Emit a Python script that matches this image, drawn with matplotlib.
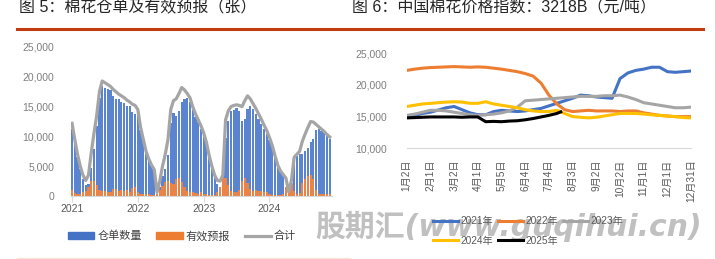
import numpy as np
import matplotlib
matplotlib.use('Agg')
import matplotlib.pyplot as plt
from matplotlib.lines import Line2D
from matplotlib.patches import Patch
from matplotlib.ticker import FuncFormatter

plt.rcParams['font.family'] = ['Liberation Sans', 'Noto Sans CJK SC']

# ---- 图5: 棉花仓单及有效预报, half-monthly readings 2021-2024 ----
total = [12200, 9500, 7000, 5000, 3500, 2600, 3500, 7200, 10500, 13500, 17500, 19300,
         19000, 18700, 18400, 17900, 17500, 17100, 16800, 16500, 16100, 15800, 15400, 15200,
         14500, 11500, 9500, 7500, 6200, 5200, 4400, 600, 2500, 5000, 7000, 9500,
         14500, 16000, 16300, 17200, 18200, 17800, 17200, 16500, 15000, 13800, 12800, 11800,
         10600, 9000, 6800, 5000, 3500, 2600, 2500, 3500, 12800, 14300, 15000, 15200,
         15300, 15200, 15000, 16000, 16800, 16300, 15500, 14700, 13800, 12900, 11900, 11000,
         9800, 8500, 6800, 5200, 4200, 3600, 3000, 700, 2600, 6500, 7000, 7500,
         9200, 10400, 11500, 12500, 12400, 12000, 11600, 11200, 10800, 10300, 9900]
forecast = [1000, 500, 400, 400, 600, 800, 1500, 2500, 2600, 1800, 1000, 900,
            800, 700, 600, 1100, 1200, 900, 1000, 900, 1000, 700, 1300, 1500,
            700, 400, 300, 300, 300, 200, 200, 300, 1000, 1700, 2400, 2600,
            2200, 2000, 2800, 3000, 2400, 1500, 800, 700, 600, 500, 400, 600,
            400, 300, 200, 200, 200, 600, 1500, 3300, 3100, 1800, 800, 700,
            600, 1000, 2500, 3000, 2200, 1200, 900, 1000, 900, 800, 700, 600,
            400, 200, 100, 100, 100, 300, 1500, 600, 2200, 800, 300, 500,
            2200, 2800, 3400, 3500, 2800, 1000, 400, 300, 300, 300, 300]
warrant = np.array(total) - np.array(forecast)
t = 2021 + np.arange(len(total)) / 24
years = [2021, 2022, 2023, 2024]

# ---- 图6: 中国棉花价格指数 3218B ----
day_idx = np.arange(0, 361, 10)
p2021 = [14980, 15200, 15500, 15700, 16040, 16400, 16600, 16100, 15600, 15300, 15300, 15800,
         16000, 15900, 15800, 15900, 16100, 16300, 16700, 17100, 17500, 17900, 18400, 18300,
         18100, 18000, 17900, 21000, 21900, 22300, 22500, 22800, 22800, 22100, 22000, 22100, 22200]
p2022 = [22300, 22500, 22650, 22750, 22800, 22850, 22900, 22850, 22800, 22850, 22800, 22650,
         22500, 22300, 22100, 21800, 21400, 20300, 18400, 17000, 16100, 15800, 15900, 16000,
         15900, 15900, 15900, 15800, 15900, 15900, 15600, 15400, 15200, 15100, 15000, 15000, 15000]
p2023 = [15200, 15400, 15700, 16000, 16000, 15900, 15700, 15500, 15300, 15200, 15300, 15400,
         15600, 15900, 16500, 17500, 17600, 17700, 17800, 17900, 18000, 18100, 18200, 18200,
         18200, 18300, 18300, 18400, 18100, 17700, 17200, 17000, 16800, 16600, 16400, 16400, 16500]
p2024 = [16600, 16800, 17000, 17100, 17200, 17300, 17350, 17300, 17100, 17100, 17350, 17000,
         16800, 16600, 16400, 16100, 15900, 15800, 15800, 16000, 15500, 15000, 14900, 14800,
         14900, 15100, 15300, 15500, 15500, 15500, 15400, 15300, 15200, 15100, 15000, 14850, 14800]
idx_2025 = [0, 10, 20, 30, 40, 50, 60, 70, 80, 90, 100, 110, 120, 130, 140, 150, 160, 170, 180, 190, 195]
p2025 = [14800, 14850, 14900, 14950, 14950, 14950, 14950, 14900, 14950, 14950, 14200, 14250,
         14200, 14300, 14350, 14500, 14700, 14950, 15200, 15500, 15750]
tick_pos = np.arange(0, 361, 30)
tick_lbl = ['1月2日', '2月1日', '3月2日', '4月1日', '5月5日', '6月4日', '7月4日',
            '8月3日', '9月2日', '10月2日', '11月1日', '12月1日', '12月31日']

W, H = 715, 259
fig = plt.figure(figsize=(W / 100, H / 100), dpi=100)


def px_axes(x0, y0, x1, y1):
    return fig.add_axes([x0 / W, 1 - y1 / H, (x1 - x0) / W, (y1 - y0) / H])


fmt = FuncFormatter(lambda v, _: f'{v:,.0f}')

# left chart
ax1 = px_axes(70.7, 47, 332, 196)
ax1.bar(t, warrant, width=0.8 / 24, color='#5B84D0', linewidth=0)
ax1.bar(t, forecast, width=0.8 / 24, color='#E8834A', linewidth=0)
ax1.plot(t, total, color='#A5A5A5', lw=2.3, solid_joinstyle='round')
ax1.set_xlim(2021 - 0.02, 2024.95)
ax1.set_ylim(0, 25000)
ax1.set_yticks(range(0, 25001, 5000))
ax1.yaxis.set_major_formatter(fmt)
ax1.set_xticks(years)
ax1.set_xticklabels([str(y) for y in years])
for s in ['left', 'right', 'top']:
    ax1.spines[s].set_visible(False)
ax1.spines['bottom'].set_color('#D9D9D9')
ax1.tick_params(axis='y', length=0, labelsize=7.5, labelcolor='#7F7F7F', pad=12)
ax1.tick_params(axis='x', length=4, color='#D9D9D9', labelsize=7.5, labelcolor='#595959', pad=2)

# right chart
ax2 = px_axes(406.7, 53.3, 691.1, 148.3)
ax2.plot(day_idx, p2021, color='#4472C4', lw=2.2, label='2021年')
ax2.plot(day_idx, p2022, color='#ED7D31', lw=2.2, label='2022年')
ax2.plot(day_idx, p2023, color='#A5A5A5', lw=2.2, label='2023年')
ax2.plot(day_idx, p2024, color='#FFC000', lw=2.2, label='2024年')
ax2.plot(idx_2025, p2025, color='#000000', lw=2.2, label='2025年')
ax2.set_xlim(0, 360)
ax2.set_ylim(10000, 25000)
ax2.set_yticks(range(10000, 25001, 5000))
ax2.yaxis.set_major_formatter(fmt)
ax2.set_xticks(tick_pos)
ax2.set_xticklabels(tick_lbl, rotation=90)
for s in ['left', 'right', 'top']:
    ax2.spines[s].set_visible(False)
ax2.spines['bottom'].set_color('#D9D9D9')
ax2.tick_params(axis='y', length=0, labelsize=7.5, labelcolor='#7F7F7F', pad=14)
ax2.tick_params(axis='x', length=0, labelsize=7.3, labelcolor='#595959', pad=8)

# titles and rules
fig.text(19 / W, 1 - 8 / H, '图 5：棉花仓单及有效预报（张）', fontsize=11.5, color='#262626', va='center')
fig.text(352 / W, 1 - 8 / H, '图 6：中国棉花价格指数：3218B（元/吨）', fontsize=11.5, color='#262626', va='center')
fig.add_artist(Line2D([17 / W, 703 / W], [1 - 28.5 / H] * 2, color='#C23B10', lw=2.2))
fig.add_artist(Line2D([17 / W, 350 / W], [1 - 257.5 / H] * 2, color='#FBE4D5', lw=1))

# watermark
fig.text(315 / W, 1 - 226 / H, '股期汇(www.guqihui.cn)', fontsize=21.5, fontweight='bold', style='italic',
         color='#C0C0C0', va='center', ha='left', family=['DejaVu Sans', 'Noto Sans CJK SC'], zorder=1)

# legends
fig.legend(handles=[Patch(color='#4472C4'), Patch(color='#ED7D31'), Line2D([], [], color='#A5A5A5', lw=2.3)],
           labels=['仓单数量', '有效预报', '合计'], ncol=3, loc='center',
           bbox_to_anchor=(182 / W, 1 - 236 / H), frameon=False, fontsize=8,
           handlelength=2.4, handleheight=0.55, handletextpad=0.25, columnspacing=1.3,
           labelcolor='#404040')
h, l = ax2.get_legend_handles_labels()
order = [0, 3, 1, 4, 2]
fig.legend([h[i] for i in order], [l[i] for i in order], ncol=3, loc='center',
           bbox_to_anchor=(528 / W, 1 - 231 / H), frameon=False, fontsize=7.3,
           handlelength=2.5, handletextpad=0.2, columnspacing=0.5, labelspacing=0.9,
           labelcolor='#595959')

fig.savefig('out.png', dpi=100)
